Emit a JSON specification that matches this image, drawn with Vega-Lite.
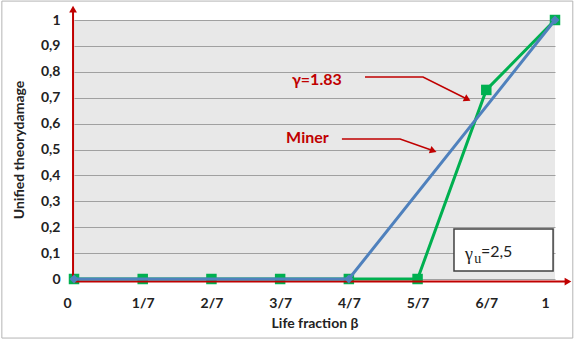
{
  "$schema": "https://vega.github.io/schema/vega-lite/v6.json",
  "width": 481,
  "height": 259,
  "autosize": {"type": "none"},
  "padding": {"left": 74, "top": 20, "right": 19, "bottom": 60},
  "background": "white",
  "config": {"view": {"fill": "#e8e8e8", "stroke": null}, "font": "Lato"},
  "datasets": {
    "series": [
      {"s": "g", "x": 0, "y": 0},
      {"s": "g", "x": 0.142857, "y": 0},
      {"s": "g", "x": 0.285714, "y": 0},
      {"s": "g", "x": 0.428571, "y": 0},
      {"s": "g", "x": 0.571429, "y": 0},
      {"s": "g", "x": 0.714286, "y": 0},
      {"s": "g", "x": 0.857143, "y": 0.73},
      {"s": "g", "x": 1, "y": 1},
      {"s": "m", "x": 0, "y": 0},
      {"s": "m", "x": 0.571429, "y": 0},
      {"s": "m", "x": 1, "y": 1}
    ],
    "frame": [{"x": -0.15, "x2": 1.037, "y": 1.073, "y2": -0.228}],
    "axes": [
      {"x": -0.002, "y": -0.01, "x2": -0.002, "y2": 1.035},
      {"x": -0.002, "y": -0.01, "x2": 1.022, "y2": -0.01}
    ],
    "headUp": [{"x": -0.002, "y": 1.042}],
    "headRight": [{"x": 1.027, "y": -0.01}],
    "arrows": [
      {"id": "g", "o": 0, "x": 0.605, "y": 0.78},
      {"id": "g", "o": 1, "x": 0.7256, "y": 0.78},
      {"id": "g", "o": 2, "x": 0.818, "y": 0.694},
      {"id": "m", "o": 0, "x": 0.557, "y": 0.5405},
      {"id": "m", "o": 1, "x": 0.678, "y": 0.5405},
      {"id": "m", "o": 2, "x": 0.747, "y": 0.495}
    ],
    "headG": [{"x": 0.818, "y": 0.694}],
    "headM": [{"x": 0.747, "y": 0.495}],
    "notes": [
      {"t": "γ=1.83", "x": 0.453, "y": 0.768},
      {"t": "Miner", "x": 0.441, "y": 0.544}
    ],
    "box": [{"x": 0.79, "x2": 0.996, "y": 0.193, "y2": 0.031}],
    "boxG": [{"t": "γ", "x": 0.813, "y": 0.093}],
    "boxU": [{"t": "u", "x": 0.832, "y": 0.078}],
    "boxV": [{"t": "=2,5", "x": 0.846, "y": 0.106}]
  },
  "encoding": {
    "x": {
      "field": "x",
      "type": "quantitative",
      "scale": {"domain": [0, 1], "nice": false, "zero": false},
      "axis": {
        "values": [0, 0.142857, 0.285714, 0.428571, 0.571429, 0.714286, 0.857143, 1],
        "labelExpr": "datum.value < 0.01 ? '0' : datum.value > 0.99 ? '1' : round(datum.value*7) + '/7'",
        "labelFlush": false,
        "labelOffset": {"condition": [{"test": "datum.value < 0.01", "value": -7}, {"test": "datum.value > 0.99", "value": -10}], "value": 0},
        "domain": false,
        "ticks": false,
        "grid": false,
        "labelFont": "Lato",
        "labelFontWeight": "bold",
        "labelFontSize": 14,
        "labelColor": "#222222",
        "labelPadding": 17,
        "title": "Life fraction β",
        "titleFont": "Lato",
        "titleFontSize": 14,
        "titleFontWeight": "bold",
        "titleColor": "#222222",
        "titlePadding": 6
      }
    },
    "y": {
      "field": "y",
      "type": "quantitative",
      "scale": {"domain": [0, 1], "nice": false, "zero": false},
      "axis": {
        "values": [0, 0.1, 0.2, 0.3, 0.4, 0.5, 0.6, 0.7, 0.8, 0.9, 1],
        "format": ".1~f",
        "labelExpr": "replace(datum.label, '.', ',')",
        "domain": false,
        "ticks": false,
        "grid": true,
        "gridColor": "#a0a0a0",
        "gridWidth": 1.2,
        "labelFont": "Lato",
        "labelFontWeight": "bold",
        "labelFontSize": 14,
        "labelColor": "#222222",
        "labelPadding": 14,
        "title": "Unified theorydamage",
        "titleFont": "Lato",
        "titleFontSize": 14,
        "titleFontWeight": "bold",
        "titleColor": "#222222",
        "titlePadding": 14
      }
    }
  },
  "layer": [
    {
      "data": {"name": "frame"},
      "mark": {"type": "rect", "filled": false, "stroke": "#b4b4b4", "strokeWidth": 1},
      "encoding": {"x2": {"field": "x2"}, "y2": {"field": "y2"}}
    },
    {
      "data": {"name": "series"},
      "transform": [{"filter": "datum.s == 'g'"}],
      "mark": {"type": "line", "color": "#00b050", "strokeWidth": 3}
    },
    {
      "data": {"name": "series"},
      "transform": [{"filter": "datum.s == 'g'"}],
      "mark": {"type": "point", "shape": "square", "filled": true, "size": 110, "color": "#00b050", "opacity": 1}
    },
    {
      "data": {"name": "axes"},
      "mark": {"type": "rule", "color": "#c00000", "strokeWidth": 2},
      "encoding": {"x2": {"field": "x2"}, "y2": {"field": "y2"}}
    },
    {
      "data": {"name": "headUp"},
      "mark": {"type": "point", "shape": "triangle-up", "filled": true, "size": 60, "color": "#c00000", "opacity": 1}
    },
    {
      "data": {"name": "headRight"},
      "mark": {"type": "point", "shape": "triangle-right", "filled": true, "size": 60, "color": "#c00000", "opacity": 1}
    },
    {
      "data": {"name": "series"},
      "transform": [{"filter": "datum.s == 'm'"}],
      "mark": {"type": "line", "color": "#4f81bd", "strokeWidth": 3}
    },
    {
      "data": {"name": "series"},
      "transform": [{"filter": "datum.s == 'm'"}],
      "mark": {"type": "point", "shape": "diamond", "filled": true, "size": 80, "color": "#4f81bd", "opacity": 1}
    },
    {
      "data": {"name": "arrows"},
      "mark": {"type": "line", "color": "#c00000", "strokeWidth": 1.5},
      "encoding": {"detail": {"field": "id"}, "order": {"field": "o", "type": "quantitative"}}
    },
    {
      "data": {"name": "headG"},
      "mark": {"type": "point", "shape": "triangle-right", "filled": true, "size": 60, "angle": 27, "color": "#c00000", "opacity": 1}
    },
    {
      "data": {"name": "headM"},
      "mark": {"type": "point", "shape": "triangle-right", "filled": true, "size": 60, "angle": 19, "color": "#c00000", "opacity": 1}
    },
    {
      "data": {"name": "notes"},
      "mark": {"type": "text", "align": "left", "baseline": "middle", "color": "#c00000", "font": "Lato", "fontWeight": "bold", "fontSize": 16},
      "encoding": {"text": {"field": "t"}}
    },
    {
      "data": {"name": "box"},
      "mark": {"type": "rect", "fill": "white", "stroke": "#404040", "strokeWidth": 1.5},
      "encoding": {"x2": {"field": "x2"}, "y2": {"field": "y2"}}
    },
    {
      "data": {"name": "boxG"},
      "mark": {"type": "text", "align": "left", "baseline": "middle", "color": "#222222", "font": "Liberation Serif", "fontSize": 18},
      "encoding": {"text": {"field": "t"}}
    },
    {
      "data": {"name": "boxU"},
      "mark": {"type": "text", "align": "left", "baseline": "middle", "color": "#222222", "font": "Liberation Serif", "fontSize": 14},
      "encoding": {"text": {"field": "t"}}
    },
    {
      "data": {"name": "boxV"},
      "mark": {"type": "text", "align": "left", "baseline": "middle", "color": "#222222", "font": "Lato", "fontSize": 16},
      "encoding": {"text": {"field": "t"}}
    }
  ]
}
